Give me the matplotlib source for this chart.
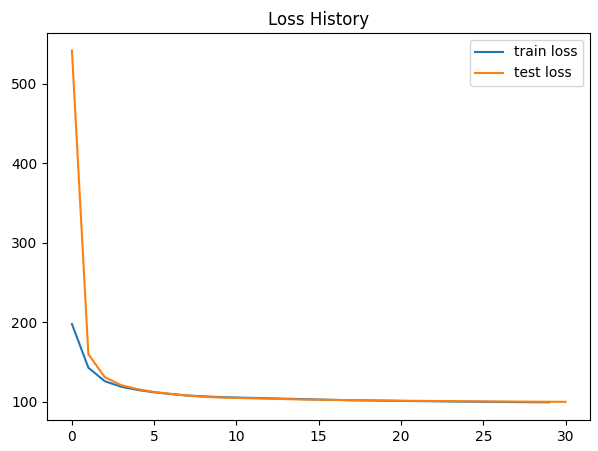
import matplotlib
matplotlib.use("Agg")
import matplotlib.pyplot as plt

train_loss = [198, 143, 126, 119, 115, 112, 110, 108, 107, 106, 105.5, 105, 104.5, 104, 103.5, 103,
              102.5, 102, 101.8, 101.5, 101.2, 101, 100.8, 100.5, 100.3, 100.1, 100, 99.8, 99.6, 99.5]
test_loss = [542, 160, 131, 121, 116, 112.5, 110, 108, 106.5, 105.5, 105, 104.5, 104, 103.5, 103, 102.8,
             102.5, 102.2, 102, 101.8, 101.5, 101.3, 101.1, 101, 100.8, 100.7, 100.5, 100.4, 100.3, 100.2, 100.1]

fig, ax = plt.subplots(figsize=(5.98, 4.51), dpi=100)
fig.subplots_adjust(left=0.079, right=0.987, top=0.927, bottom=0.069)
ax.plot(range(len(train_loss)), train_loss, label="train loss")
ax.plot(range(len(test_loss)), test_loss, label="test loss")
ax.set_title("Loss History")
ax.legend()
fig.savefig("out.png")
